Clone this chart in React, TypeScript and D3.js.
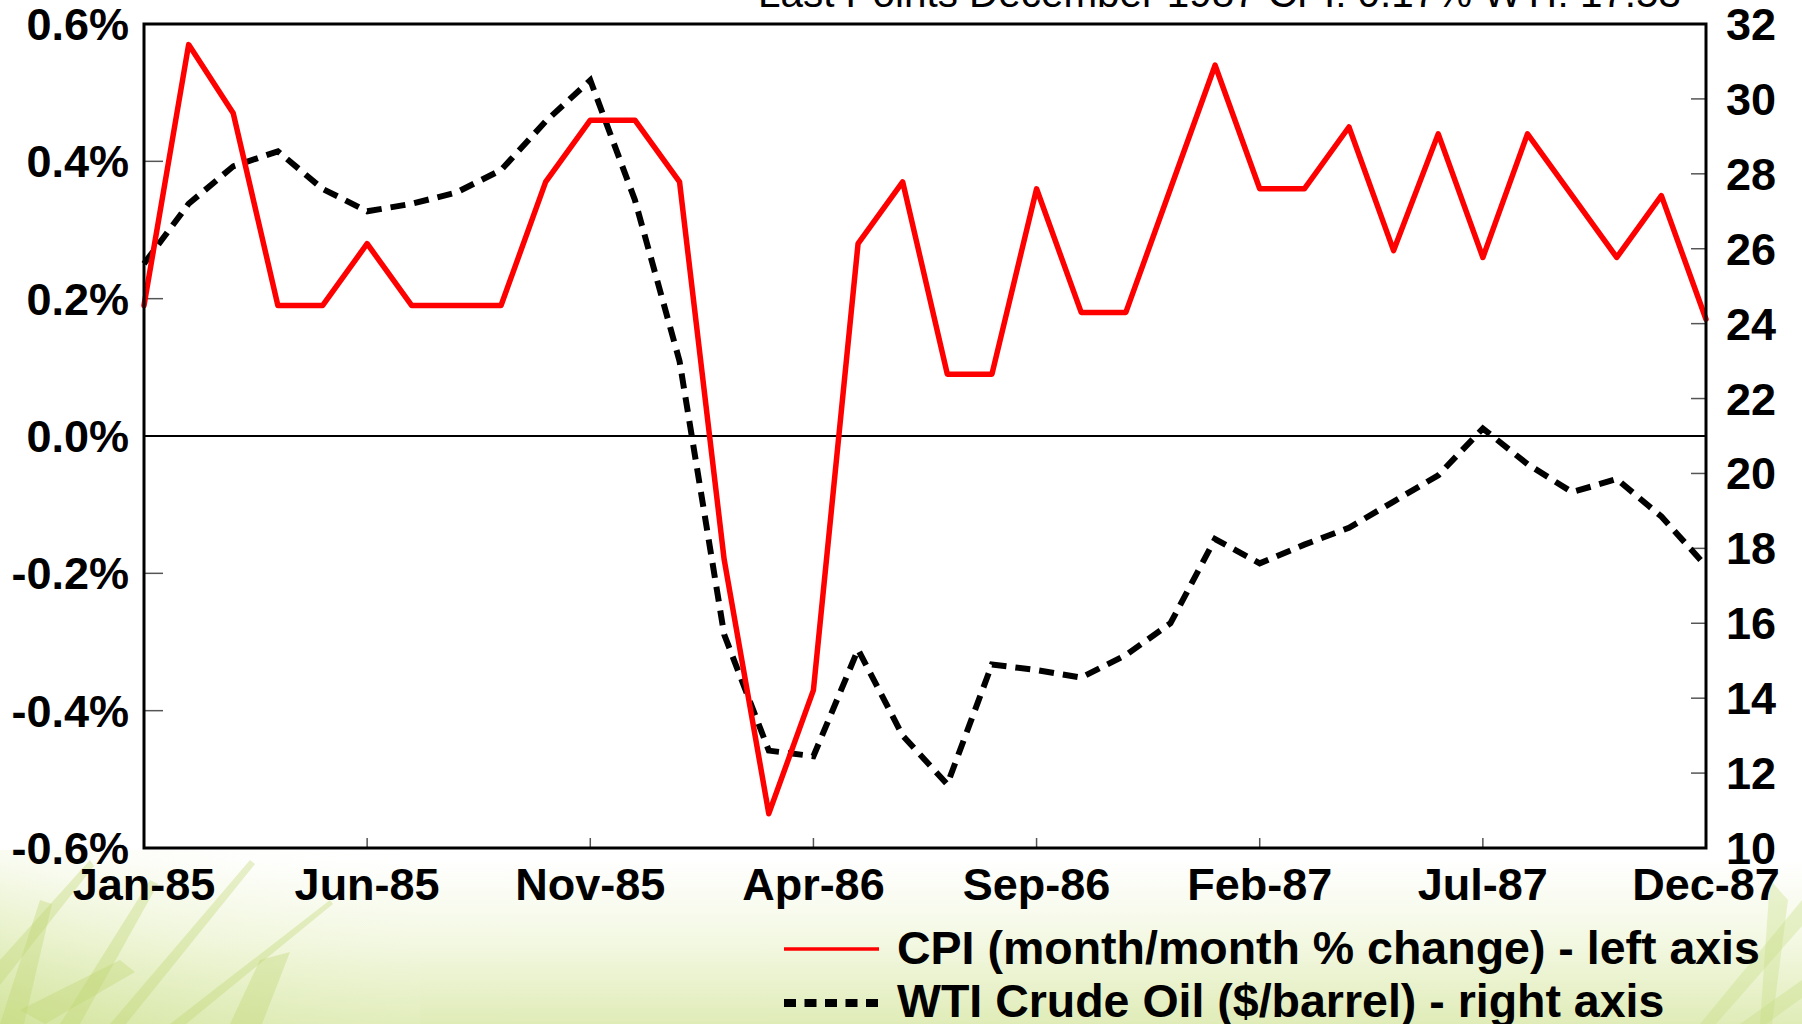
import React from "react";
import * as d3 from "d3";

const months: string[] = [
  "Jan-85","Feb-85","Mar-85","Apr-85","May-85","Jun-85","Jul-85","Aug-85","Sep-85","Oct-85","Nov-85","Dec-85",
  "Jan-86","Feb-86","Mar-86","Apr-86","May-86","Jun-86","Jul-86","Aug-86","Sep-86","Oct-86","Nov-86","Dec-86",
  "Jan-87","Feb-87","Mar-87","Apr-87","May-87","Jun-87","Jul-87","Aug-87","Sep-87","Oct-87","Nov-87","Dec-87",
];

const cpi: number[] = [
  0.19, 0.57, 0.47, 0.19, 0.19, 0.28, 0.19, 0.19, 0.19, 0.37, 0.46, 0.46,
  0.37, -0.18, -0.55, -0.37, 0.28, 0.37, 0.09, 0.09, 0.36, 0.18, 0.18, 0.36,
  0.54, 0.36, 0.36, 0.45, 0.27, 0.44, 0.26, 0.44, 0.35, 0.26, 0.35, 0.17,
];

const wti: number[] = [
  25.6, 27.2, 28.2, 28.6, 27.6, 27.0, 27.2, 27.5, 28.1, 29.4, 30.5, 27.3,
  23.0, 15.7, 12.6, 12.45, 15.3, 13.0, 11.7, 14.9, 14.75, 14.55, 15.15, 16.0,
  18.25, 17.6, 18.1, 18.55, 19.25, 19.95, 21.2, 20.25, 19.5, 19.85, 18.85, 17.53,
];

const leftTicks: number[] = [-0.6, -0.4, -0.2, 0.0, 0.2, 0.4, 0.6];
const rightTicks: number[] = [10, 12, 14, 16, 18, 20, 22, 24, 26, 28, 30, 32];
const xTickLabels: string[] = ["Jan-85", "Jun-85", "Nov-85", "Apr-86", "Sep-86", "Feb-87", "Jul-87", "Dec-87"];

const titleText = "Last Points December 1987  CPI: 0.17% WTI: 17.53";
const legendCPI = "CPI (month/month % change) - left axis";
const legendWTI = "WTI Crude Oil ($/barrel) - right axis";

const W = 1802;
const H = 1024;
const L = 144, R = 1706, T = 24, B = 848;
const FONT = "'Liberation Sans', Arial, Helvetica, sans-serif";

export default function App() {
  const x = d3.scalePoint<string>().domain(months).range([L, R]);
  const yL = d3.scaleLinear().domain([-0.6, 0.6]).range([B, T]);
  const yR = d3.scaleLinear().domain([10, 32]).range([B, T]);

  const cpiLine = d3.line<number>().x((_, i) => x(months[i]) as number).y((d) => yL(d));
  const wtiLine = d3.line<number>().x((_, i) => x(months[i]) as number).y((d) => yR(d));

  const streaksLeft = [
    "M0,1024 L40,900 L52,904 L24,1024 Z",
    "M60,1024 L150,880 L158,884 L80,1024 Z",
    "M110,1024 L250,860 L255,864 L126,1024 Z",
    "M0,960 L90,860 L94,866 L0,985 Z",
    "M170,1024 L330,900 L333,904 L186,1024 Z",
    "M230,1024 L260,960 L290,952 L262,1024 Z",
    "M20,1010 L120,960 L135,972 L45,1024 Z",
  ];
  const streaksRight = [
    "M1802,900 L1700,1024 L1716,1024 L1802,926 Z",
    "M1770,880 L1760,1024 L1772,1024 L1788,900 Z",
    "M1802,980 L1740,1024 L1766,1024 L1802,998 Z",
  ];

  return (
    <svg
      width={W}
      height={H}
      viewBox={`0 0 ${W} ${H}`}
      style={{ position: "fixed", left: 0, top: 0, display: "block" }}
    >
      <defs>
        <linearGradient id="bg" x1="0" y1="0" x2="0" y2="1">
          <stop offset="0" stopColor="#ffffff" />
          <stop offset="0.84" stopColor="#ffffff" />
          <stop offset="0.92" stopColor="#f3f8e2" />
          <stop offset="1" stopColor="#e0ecb8" />
        </linearGradient>
        <linearGradient id="bgl" x1="0" y1="1" x2="1" y2="0">
          <stop offset="0" stopColor="#cfe295" stopOpacity="0.8" />
          <stop offset="0.5" stopColor="#e8f1c8" stopOpacity="0.25" />
          <stop offset="1" stopColor="#ffffff" stopOpacity="0" />
        </linearGradient>
      </defs>
      <rect x={0} y={0} width={W} height={H} fill="url(#bg)" />
      <rect x={0} y={850} width={420} height={174} fill="url(#bgl)" />
      {streaksLeft.map((d, i) => (
        <path key={"sl" + i} d={d} fill="#bcd56e" opacity={0.35} />
      ))}
      {streaksRight.map((d, i) => (
        <path key={"sr" + i} d={d} fill="#c6dc80" opacity={0.35} />
      ))}

      {/* plot area */}
      <rect x={L} y={T} width={R - L} height={B - T} fill="#ffffff" />

      {/* title (partly clipped at top) */}
      <text x={758} y={7} fontFamily={FONT} fontSize={40} fill="#000" textLength={923} lengthAdjust="spacingAndGlyphs">
        {titleText}
      </text>

      {/* left ticks */}
      {leftTicks.map((v) => (
        <g key={"lt" + v}>
          <line x1={L} x2={L + 19} y1={yL(v)} y2={yL(v)} stroke="#555" strokeWidth={1.5} />
          <text
            x={129}
            y={yL(v) + 16}
            textAnchor="end"
            fontFamily={FONT}
            fontWeight="bold"
            fontSize={45}
            fill="#000"
          >
            {v.toFixed(1) + "%"}
          </text>
        </g>
      ))}

      {/* right ticks */}
      {rightTicks.map((v) => (
        <g key={"rt" + v}>
          <line x1={R - 15} x2={R} y1={yR(v)} y2={yR(v)} stroke="#555" strokeWidth={1.5} />
          <text x={1726} y={yR(v) + 16} textAnchor="start" fontFamily={FONT} fontWeight="bold" fontSize={45} fill="#000">
            {v}
          </text>
        </g>
      ))}

      {/* x ticks */}
      {xTickLabels.map((m) => (
        <g key={"xt" + m}>
          <line x1={x(m) as number} x2={x(m) as number} y1={B - 10} y2={B} stroke="#555" strokeWidth={1.5} />
          <text x={x(m) as number} y={900} textAnchor="middle" fontFamily={FONT} fontWeight="bold" fontSize={45} fill="#000">
            {m}
          </text>
        </g>
      ))}

      {/* zero line */}
      <line x1={L} x2={R} y1={yL(0)} y2={yL(0)} stroke="#000" strokeWidth={2} />

      {/* series */}
      <path d={wtiLine(wti) || ""} fill="none" stroke="#000" strokeWidth={6} strokeDasharray="15 9" />
      <path d={cpiLine(cpi) || ""} fill="none" stroke="#ff0000" strokeWidth={5.5} strokeLinejoin="round" strokeLinecap="round" />

      {/* frame */}
      <rect x={L} y={T} width={R - L} height={B - T} fill="none" stroke="#000" strokeWidth={3} />

      {/* legend */}
      <line x1={784} x2={879} y1={949} y2={949} stroke="#ff0000" strokeWidth={3.5} />
      <text x={897} y={964} fontFamily={FONT} fontWeight="bold" fontSize={46.5} fill="#000">
        {legendCPI}
      </text>
      <line x1={784} x2={879} y1={1003} y2={1003} stroke="#000" strokeWidth={8} strokeDasharray="12 8.5" />
      <text x={897} y={1017} fontFamily={FONT} fontWeight="bold" fontSize={46.5} fill="#000">
        {legendWTI}
      </text>
    </svg>
  );
}
